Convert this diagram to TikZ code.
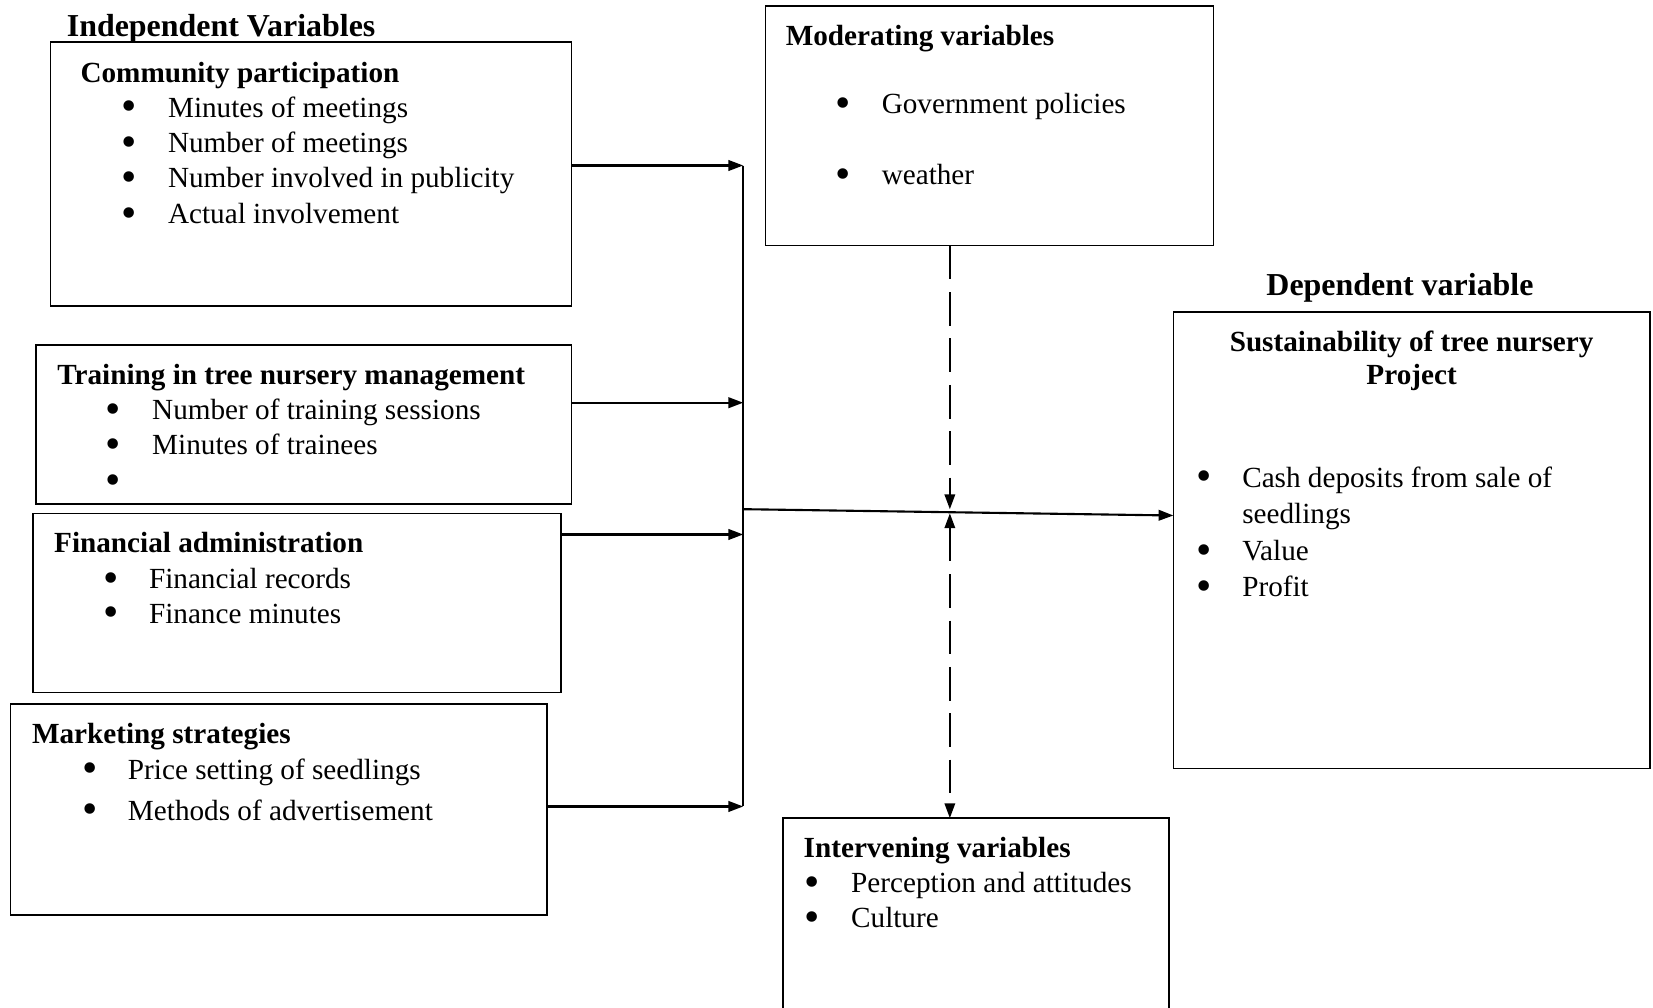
\documentclass[tikz,border=0pt]{standalone}
\usepackage{fontspec}
\setmainfont{Liberation Serif}
\usetikzlibrary{arrows.meta}
\newcommand\bigbul{\smash{\raisebox{-0.13em}{\scalebox{1.5}{\textbullet}}}}
\newcommand\bulit[2]{\makebox[#1][l]{\bigbul}#2}
\begin{document}
\begin{tikzpicture}[x=0.5pt,y=-0.5pt,
 box/.style={draw,line width=0.8pt,inner sep=0pt,outer sep=0pt,anchor=north west},
 body/.style={inner sep=0pt,anchor=base west,font=\fontsize{13.85}{16.85}\selectfont},
 head/.style={inner sep=0pt,anchor=base west,font=\fontsize{13.85}{16.85}\selectfont\bfseries},
 big/.style={inner sep=0pt,anchor=base west,font=\fontsize{15.15}{18}\selectfont\bfseries},
 arr/.style={line width=1pt,-{Triangle[length=7pt,width=5pt]}},
 dsh/.style={line width=0.8pt,dash pattern=on 16pt off 6pt},
 dsharr/.style={dsh,-{Triangle[length=7pt,width=5pt]}},
 dshboth/.style={line width=0.8pt,dash pattern=on 16pt off 6pt,{Triangle[length=7pt,width=5pt]}-{Triangle[length=7pt,width=5pt]}}]
\useasboundingbox (0,0) rectangle (1568,956);
\clip (0,0) rectangle (1568,956);
% boxes
\node[box,minimum width=247pt,minimum height=125pt] (cp) at (48,40) {};
\node[box,minimum width=254pt,minimum height=75.5pt] (tr) at (34,327) {};
\node[box,minimum width=250.5pt,minimum height=85pt] (fa) at (31,487) {};
\node[box,minimum width=254.5pt,minimum height=100pt] (ms) at (10,668) {};
\node[box,minimum width=212.5pt,minimum height=113.5pt] (mod) at (726,6) {};
\node[box,minimum width=226pt,minimum height=216.5pt] (dep) at (1113,296) {};
\node[box,minimum width=183pt,minimum height=110pt] (int) at (743,776) {};
% headings
\node[big] (indep) at (63,35) {Independent Variables};
\node[big,anchor=base] (deph) at (1328,280) {Dependent variable};
% community participation
\node[head] (cpt) at (76,78) {Community participation};
\node[body] (cp1) at (115,111) {\bulit{22pt}{Minutes of meetings}};
\node[body] (cp2) at (115,145) {\bulit{22pt}{Number of meetings}};
\node[body] (cp3) at (115,178) {\bulit{22pt}{Number involved in publicity}};
\node[body] (cp4) at (115,212) {\bulit{22pt}{Actual involvement}};
% training
\node[head] (trt) at (54,365) {Training in tree nursery management};
\node[body] (tr1) at (100,398) {\bulit{22pt}{Number of training sessions}};
\node[body] (tr2) at (100,431) {\bulit{22pt}{Minutes of trainees}};
\node[body] (tr3) at (100,465) {\bigbul};
% financial
\node[head] (fat) at (51,524) {Financial administration};
\node[body] (fa1) at (98,558) {\bulit{21.5pt}{Financial records}};
\node[body] (fa2) at (98,591) {\bulit{21.5pt}{Finance minutes}};
% marketing
\node[head] (mst) at (30,705) {Marketing strategies};
\node[body] (ms1) at (78,739) {\bulit{21.5pt}{Price setting of seedlings}};
\node[body] (ms2) at (78,778) {\bulit{21.5pt}{Methods of advertisement}};
% moderating
\node[head] (modt) at (745,43) {Moderating variables};
\node[body] (mod1) at (792,108) {\bulit{22pt}{Government policies}};
\node[body] (mod2) at (792,175) {\bulit{22pt}{weather}};
% dependent
\node[head,anchor=base] (dept1) at (1339,333) {Sustainability of tree nursery};
\node[head,anchor=base] (dept2) at (1339,365) {Project};
\node[body] (dep1) at (1135,462) {\bulit{21.5pt}{Cash deposits from sale of}};
\node[body] (dep1b) at (1178,497) {seedlings};
\node[body] (dep2) at (1135,532) {\bulit{21.5pt}{Value}};
\node[body] (dep3) at (1135,566) {\bulit{21.5pt}{Profit}};
% intervening
\node[head] (intt) at (762,813) {Intervening variables};
\node[body] (int1) at (763,847) {\bulit{22pt}{Perception and attitudes}};
\node[body] (int2) at (763,880) {\bulit{22pt}{Culture}};
% junction coordinates
\coordinate (j1) at (705,157);
\coordinate (j2) at (705,382);
\coordinate (j3) at (705,507);
\coordinate (j4) at (705,765);
\coordinate (jm) at (705,483);
\coordinate (dm) at (1113,489);
\coordinate (xm) at (901,483);
\coordinate (xi) at (901,487);
% connectors
\draw[arr] (cp.east |- j1) -- (j1);
\draw[arr] (tr.east |- j2) -- (j2);
\draw[arr] (fa.east |- j3) -- (j3);
\draw[arr] (ms.east |- j4) -- (j4);
\draw[line width=1pt] (j1) -- (j4);
\draw[arr] (jm) -- (dep.west |- dm);
\draw[dsharr] (mod.south -| xm) -- (xm);
\draw[dshboth] (xi) -- (int.north -| xi);
\end{tikzpicture}
\end{document}
